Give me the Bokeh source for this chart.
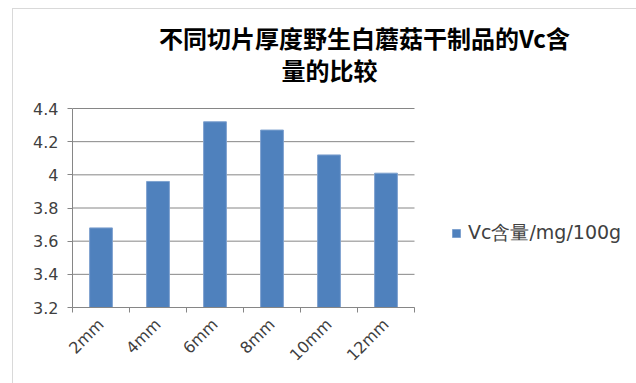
from bokeh.plotting import figure
from bokeh.models import (FixedTicker, CustomJSTickFormatter, Legend, LegendItem,
                          Label, Range1d, ColumnDataSource)
from bokeh.embed import file_html
from bokeh.resources import INLINE
import math

categories = ["2mm", "4mm", "6mm", "8mm", "10mm", "12mm"]
vc_values = [3.68, 3.96, 4.32, 4.27, 4.12, 4.01]
y_ticks = [3.2, 3.4, 3.6, 3.8, 4.0, 4.2, 4.4]
series_name = "Vc含量/mg/100g"
title_lines = ["不同切片厚度野生白蘑菇干制品的Vc含", "量的比较"]

n = len(categories)
xs = [i + 0.5 for i in range(n)]
src = ColumnDataSource(dict(x=xs, top=vc_values, cat=categories))

# layout (pixels)
FIG_W, FIG_H = 624, 375
LEFT, BOTTOM = 59, 77
PLOT_W, PLOT_H = 342, 199       # pixel extent of the category axis / value axis
FRAME_W = FIG_W - LEFT
FRAME_H = FIG_H - BOTTOM
y0, y1 = y_ticks[0], y_ticks[-1]
x_end = n * FRAME_W / PLOT_W                 # frame extends right so legend fits inside
y_end = y0 + (y1 - y0) * FRAME_H / PLOT_H    # frame extends up so the title fits inside

p = figure(width=FIG_W, height=FIG_H, output_backend="svg", toolbar_location=None,
           x_range=Range1d(0, x_end), y_range=Range1d(y0, y_end),
           min_border_left=LEFT, min_border_right=0, min_border_top=0, min_border_bottom=BOTTOM,
           margin=(8, 0, 0, 12),
           styles={"border-top": "1px solid #d9d9d9", "border-left": "1px solid #d9d9d9",
                   "box-sizing": "border-box"})
p.outline_line_color = None
p.background_fill_color = "white"
p.border_fill_color = "white"

# horizontal gridlines limited to the category span
p.segment(x0=[0] * len(y_ticks), x1=[n] * len(y_ticks), y0=y_ticks, y1=y_ticks,
          line_color="#868686", line_width=1)

r = p.vbar(x="x", top="top", bottom=y0, width=0.4, source=src,
           fill_color="#4F81BD", line_color="#7fa2cf", line_width=1)

# y axis
p.yaxis.ticker = FixedTicker(ticks=y_ticks)
p.yaxis.bounds = (y0, y1)
p.yaxis.formatter = CustomJSTickFormatter(code="return tick.toFixed(1).replace(/\\.0$/, '');")
p.yaxis.axis_line_color = "#868686"
p.yaxis.major_tick_line_color = "#868686"
p.yaxis.major_tick_out = 5
p.yaxis.major_tick_in = 0
p.yaxis.minor_tick_line_color = None
p.yaxis.major_label_text_font = "DejaVu Sans"
p.yaxis.major_label_text_font_size = "16px"
p.yaxis.major_label_text_color = "#404040"
p.yaxis.major_label_standoff = 9

# x axis: labels at centers, ticks at boundaries
p.xaxis.ticker = FixedTicker(ticks=xs, minor_ticks=list(range(n + 1)))
p.xaxis.bounds = (0, n)
p.xaxis.major_label_overrides = {x: c for x, c in zip(xs, categories)}
p.xaxis.axis_line_color = "#868686"
p.xaxis.major_tick_line_color = None
p.xaxis.minor_tick_line_color = "#868686"
p.xaxis.minor_tick_out = 5
p.xaxis.minor_tick_in = 0
p.xaxis.major_label_orientation = math.pi / 4
p.xaxis.major_label_text_font = "DejaVu Sans"
p.xaxis.major_label_text_font_size = "16px"
p.xaxis.major_label_text_color = "#404040"
p.xaxis.major_label_standoff = 8

p.xgrid.grid_line_color = None
p.ygrid.grid_line_color = None

# title lines (screen offsets from the frame's bottom-left)
p.add_layout(Label(x=292, y=FRAME_H - 28, x_units="screen", y_units="screen",
                   text=title_lines[0], text_font="Noto Sans CJK SC",
                   text_font_style="bold", text_font_size="24px", text_color="black",
                   text_align="center", text_baseline="middle"))
p.add_layout(Label(x=257, y=FRAME_H - 60, x_units="screen", y_units="screen",
                   text=title_lines[1], text_font="Noto Sans CJK SC",
                   text_font_style="bold", text_font_size="24px", text_color="black",
                   text_align="center", text_baseline="middle"))

legend = Legend(items=[LegendItem(label=series_name, renderers=[r])], location=(379, 61),
                glyph_width=10, glyph_height=10, label_standoff=7, padding=0, margin=0,
                border_line_color=None, background_fill_alpha=0,
                label_text_font="DejaVu Sans", label_text_font_size="19px",
                label_text_color="#404040")
p.add_layout(legend, "center")

open("out.html", "w").write(file_html(p, INLINE))
